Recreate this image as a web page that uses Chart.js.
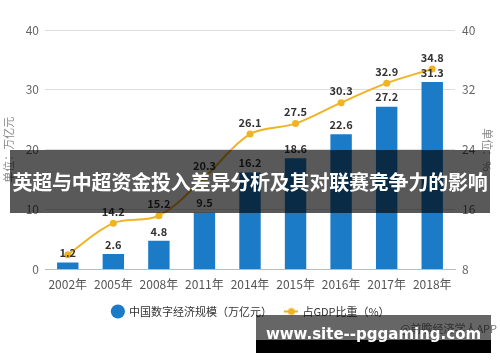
<!DOCTYPE html>
<html>
<head>
<meta charset="utf-8">
<script src="https://cdn.jsdelivr.net/npm/chart.js@4"></script>
<style>
  html, body { margin: 0; padding: 0; background: #fff; }
  #wrap { position: relative; width: 500px; height: 362px; overflow: hidden; font-family: "Noto Sans CJK SC", sans-serif; }
  #banner { position: absolute; left: 10px; top: 150px; width: 480px; height: 63px; background: rgba(0,0,0,0.65);
    color: #fff; font-weight: bold; font-size: 20px; line-height: 63px; text-align: center; white-space: nowrap; letter-spacing: -0.2px; }
  #source { position: absolute; left: 400px; top: 320px; font-size: 11px; color: #777; }
  #site { position: absolute; left: 256px; top: 315px; width: 235px; height: 25px; background: rgba(0,0,0,0.6); }
  #siteBar { position: absolute; left: 256px; top: 340px; width: 235px; height: 13px; background: #000; }
  #siteText { position: absolute; left: 256px; top: 323px; width: 235px; text-align: center; color: #fff;
    font-family: "DejaVu Sans", sans-serif; font-weight: bold; font-size: 15px; line-height: 22px; white-space: nowrap; }
</style>
</head>
<body>
<div id="wrap">
  <canvas id="myChart" width="500" height="362"></canvas>
  <div id="banner">英超与中超资金投入差异分析及其对联赛竞争力的影响</div>
  <div id="source">@前瞻经济学人APP</div>
  <div id="site"></div>
  <div id="siteBar"></div>
  <div id="siteText">www.site--pggaming.com</div>
</div>
<script>
// Datos del grafico
const anios = ['2002年', '2005年', '2008年', '2011年', '2014年', '2015年', '2016年', '2017年', '2018年']
const escala = [1.2, 2.6, 4.8, 9.5, 16.2, 18.6, 22.6, 27.2, 31.3]
const proporcion = [10.0, 14.2, 15.2, 20.3, 26.1, 27.5, 30.3, 32.9, 34.8]
const ticksIzq = [0, 10, 20, 30, 40]
const ticksDer = [8, 16, 24, 32, 40]

const azul = '#1b7bc6'
const dorado = '#f0b323'
const fuente = '"Noto Sans CJK SC", sans-serif'
const ctx = document.getElementById('myChart')

// Marcador de leyenda: linea con punto
const marcadorLinea = () => {
    const c = document.createElement('canvas')
    c.width = 14; c.height = 10
    const g = c.getContext('2d')
    g.strokeStyle = dorado; g.lineWidth = 2
    g.beginPath(); g.moveTo(0, 5); g.lineTo(14, 5); g.stroke()
    g.fillStyle = dorado
    g.beginPath(); g.arc(7, 5, 3.5, 0, Math.PI * 2); g.fill()
    return c
}

// Etiquetas de valores encima de barras y puntos
const etiquetas = {
    id: 'etiquetas',
    afterDatasetsDraw(chart) {
        const g = chart.ctx
        g.save()
        g.font = 'bold 11px ' + fuente
        g.fillStyle = '#333'
        g.textAlign = 'center'
        g.textBaseline = 'bottom'
        chart.getDatasetMeta(0).data.forEach((el, i) => {
            g.fillText(escala[i].toFixed(1), el.x, el.y - 4)
        })
        chart.getDatasetMeta(1).data.forEach((el, i) => {
            if (i === 0) return
            g.fillText(proporcion[i].toFixed(1), el.x, el.y - 6)
        })
        g.restore()
    }
}

new Chart(ctx, {
    data: {
        labels: anios,
        datasets: [
            {
                type: 'bar',
                label: '中国数字经济规模（万亿元）',
                data: escala,
                backgroundColor: azul,
                yAxisID: 'y',
                barPercentage: 0.47,
                categoryPercentage: 1,
                order: 2
            },
            {
                type: 'line',
                label: '占GDP比重（%）',
                data: proporcion,
                borderColor: dorado,
                backgroundColor: dorado,
                borderWidth: 2,
                pointRadius: 3.5,
                pointBackgroundColor: dorado,
                pointBorderWidth: 0,
                tension: 0.35,
                yAxisID: 'y1',
                order: 1
            }
        ]
    },
    options: {
        responsive: false,
        animation: false,
        layout: { padding: { left: 2, right: 0, top: 30, bottom: 35 } },
        plugins: {
            tooltip: { enabled: false },
            legend: {
                position: 'bottom',
                labels: {
                    usePointStyle: true,
                    font: { family: fuente, size: 11 },
                    color: '#333',
                    padding: 14,
                    boxHeight: 10,
                    generateLabels: chart => chart.data.datasets.map((ds, i) => ({
                        text: ds.label,
                        fillStyle: i === 0 ? azul : dorado,
                        strokeStyle: i === 0 ? azul : dorado,
                        lineWidth: 0,
                        pointStyle: i === 0 ? 'circle' : marcadorLinea(),
                        datasetIndex: i,
                        fontColor: '#333'
                    }))
                }
            }
        },
        scales: {
            x: {
                grid: { display: false },
                border: { color: '#bbb' },
                ticks: { color: '#555', font: { family: fuente, size: 12 }, padding: 0 }
            },
            y: {
                position: 'left',
                min: 0, max: 40,
                afterBuildTicks: s => { s.ticks = ticksIzq.map(v => ({ value: v })) },
                afterFit: s => { s.width = 43 },
                grid: { color: '#ddd', drawTicks: false },
                border: { display: false },
                ticks: { color: '#666', font: { family: fuente, size: 12 }, padding: 6 },
                title: { display: true, text: '单位：万亿元', color: '#888', font: { family: fuente, size: 11 }, padding: 0 }
            },
            y1: {
                position: 'right',
                min: 8, max: 40,
                afterBuildTicks: s => { s.ticks = ticksDer.map(v => ({ value: v })) },
                afterFit: s => { s.width = 45 },
                grid: { display: false, drawTicks: false },
                border: { display: false },
                ticks: { color: '#666', font: { family: fuente, size: 12 }, padding: 7 },
                title: { display: true, text: '单位：%', color: '#888', font: { family: fuente, size: 11 }, padding: { top: 6, bottom: 0 } }
            }
        }
    },
    plugins: [etiquetas]
})
</script>
</body>
</html>
